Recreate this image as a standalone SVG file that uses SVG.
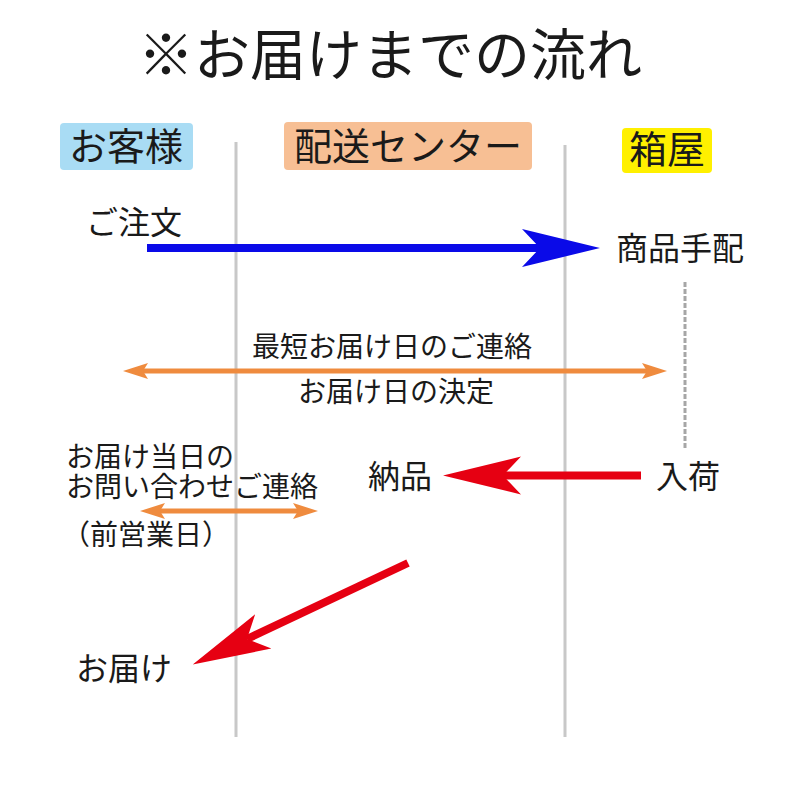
<svg xmlns="http://www.w3.org/2000/svg" width="800" height="800" viewBox="0 0 800 800">
<style>
text{font-family:"Noto Sans CJK JP","Noto Sans CJK SC",sans-serif;fill:#1a1a1a}
.t{font-size:56px}
.h{font-size:38px}
.l{font-size:32px}
.s{font-size:28px}
.lane{stroke:#c8c8c8;stroke-width:3;fill:none}
</style>
<defs>
<marker id="bigB" viewBox="-78 -20 78 40" refX="-60" refY="0" markerWidth="78" markerHeight="40" markerUnits="userSpaceOnUse" orient="auto">
<path d="M0,0 L-78,-19 L-60,0 L-78,19 Z" fill="#0a0ae8"/>
</marker>
<marker id="bigR" viewBox="-78 -20 78 40" refX="-60" refY="0" markerWidth="78" markerHeight="40" markerUnits="userSpaceOnUse" orient="auto">
<path d="M0,0 L-78,-19 L-60,0 L-78,19 Z" fill="#e60012"/>
</marker>
<marker id="sm" viewBox="-25 -9 25 18" refX="-20" refY="0" markerWidth="25" markerHeight="18" markerUnits="userSpaceOnUse" orient="auto-start-reverse">
<path d="M0,0 L-25,-8 L-20,0 L-25,8 Z" fill="#ef8b3e"/>
</marker>
</defs>

<g id="title"><text class="t" x="390" y="75" text-anchor="middle">※お届けまでの流れ</text></g>

<g id="lanes">
<line class="lane" x1="236" y1="142" x2="236" y2="737"/>
<line class="lane" x1="565" y1="145" x2="565" y2="737"/>
<line x1="685" y1="282" x2="685" y2="448" stroke="#a6a6a6" stroke-width="3" stroke-dasharray="5 2"/>
</g>

<g id="h-customer"><rect x="60" y="123" width="133" height="47" rx="4" fill="#a9dcf4"/><text class="h" x="126" y="160" text-anchor="middle">お客様</text></g>
<g id="h-center"><rect x="284" y="122" width="248" height="48" rx="4" fill="#f7bf94"/><text class="h" x="408" y="160" text-anchor="middle">配送センター</text></g>
<g id="h-box"><rect x="622" y="128" width="90" height="45" rx="4" fill="#fff000"/><text class="h" x="667" y="163" text-anchor="middle">箱屋</text></g>

<g id="connectors">
<line x1="147" y1="248" x2="540" y2="248" stroke="#0a0ae8" stroke-width="8" marker-end="url(#bigB)"/>
<line x1="143" y1="371" x2="647" y2="371" stroke="#ef8b3e" stroke-width="5" marker-start="url(#sm)" marker-end="url(#sm)"/>
<line x1="160" y1="511" x2="298" y2="511" stroke="#ef8b3e" stroke-width="5" marker-start="url(#sm)" marker-end="url(#sm)"/>
<line x1="641" y1="475.5" x2="503" y2="475.5" stroke="#e60012" stroke-width="8" marker-end="url(#bigR)"/>
<line x1="408" y1="563" x2="247" y2="639" stroke="#e60012" stroke-width="8" marker-end="url(#bigR)"/>
</g>

<g id="n-order"><text class="l" x="134" y="234" text-anchor="middle">ご注文</text></g>
<g id="n-arrange"><text class="l" x="680" y="260" text-anchor="middle">商品手配</text></g>
<g id="n-contact"><text class="s" x="392" y="357" text-anchor="middle">最短お届け日のご連絡</text><text class="s" x="396" y="402" text-anchor="middle">お届け日の決定</text></g>
<g id="n-inquiry"><text class="s" x="66" y="467">お届け当日の</text><text class="s" x="66" y="497">お問い合わせご連絡</text><text class="s" x="62" y="545">（前営業日）</text></g>
<g id="n-deliver"><text class="l" x="400" y="488" text-anchor="middle">納品</text></g>
<g id="n-arrival"><text class="l" x="688" y="488" text-anchor="middle">入荷</text></g>
<g id="n-delivery"><text class="l" x="124" y="680" text-anchor="middle">お届け</text></g>
</svg>
